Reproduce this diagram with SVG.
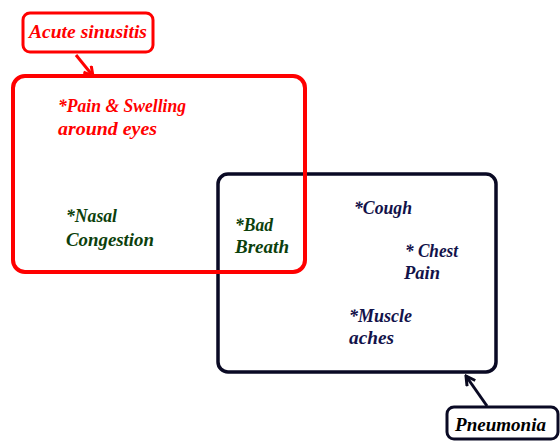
<svg xmlns="http://www.w3.org/2000/svg" width="560" height="441" viewBox="0 0 560 441">
<style>
.t{font-family:"Liberation Serif","Times New Roman",serif;font-style:italic;font-weight:bold;font-size:18px}
.red{fill:#ff0000}
.grn{fill:#0c3f0c}
.nav{fill:#12124a}
.blk{fill:#000}
</style>
<defs>
<marker id="arR" markerWidth="12" markerHeight="12" refX="10" refY="6" orient="auto" markerUnits="userSpaceOnUse">
<path d="M1,1 L10,6 L1,11" fill="none" stroke="#ff0000" stroke-width="3"/>
</marker>
<marker id="arB" markerWidth="12" markerHeight="12" refX="10" refY="6" orient="auto" markerUnits="userSpaceOnUse">
<path d="M1,1 L10,6 L1,11" fill="none" stroke="#0a0a20" stroke-width="3"/>
</marker>
</defs>
<g id="pneumonia-set">
<rect x="218" y="174" width="278" height="198" rx="10" fill="none" stroke="#0a0a24" stroke-width="3.5"/>
</g>
<g id="sinusitis-set">
<rect x="13" y="76" width="292" height="196" rx="12" fill="none" stroke="#ff0000" stroke-width="4"/>
</g>
<g id="acute-label">
<rect x="23" y="13" width="130" height="39" rx="7" fill="#fff" stroke="#ff0000" stroke-width="3"/>
<text class="t red" x="29" y="38" textLength="118" lengthAdjust="spacingAndGlyphs">Acute sinusitis</text>
</g>
<g id="pneumonia-label">
<rect x="447" y="407" width="111" height="32" rx="7" fill="#fff" stroke="#0a0a24" stroke-width="3"/>
<text class="t blk" x="455" y="431" textLength="91" lengthAdjust="spacingAndGlyphs">Pneumonia</text>
</g>
<g id="connectors">
<line x1="76" y1="55" x2="93" y2="76" stroke="#ff0000" stroke-width="3" marker-end="url(#arR)"/>
<line x1="487" y1="406" x2="466" y2="376" stroke="#0a0a24" stroke-width="3" marker-end="url(#arB)"/>
</g>
<g id="items">
<text class="t red" x="58" y="112" textLength="128" lengthAdjust="spacingAndGlyphs">*Pain &amp; Swelling</text>
<text class="t red" x="58" y="135" textLength="99" lengthAdjust="spacingAndGlyphs">around eyes</text>
<text class="t grn" x="66" y="222" textLength="51" lengthAdjust="spacingAndGlyphs">*Nasal</text>
<text class="t grn" x="66" y="246" textLength="88" lengthAdjust="spacingAndGlyphs">Congestion</text>
<text class="t grn" x="235" y="231" textLength="38" lengthAdjust="spacingAndGlyphs">*Bad</text>
<text class="t grn" x="235" y="253" textLength="54" lengthAdjust="spacingAndGlyphs">Breath</text>
<text class="t nav" x="354" y="214" textLength="58" lengthAdjust="spacingAndGlyphs">*Cough</text>
<text class="t nav" x="405" y="257" textLength="53" lengthAdjust="spacingAndGlyphs">* Chest</text>
<text class="t nav" x="404" y="279" textLength="36" lengthAdjust="spacingAndGlyphs">Pain</text>
<text class="t nav" x="349" y="322" textLength="63" lengthAdjust="spacingAndGlyphs">*Muscle</text>
<text class="t nav" x="349" y="344" textLength="45" lengthAdjust="spacingAndGlyphs">aches</text>
</g>
</svg>
